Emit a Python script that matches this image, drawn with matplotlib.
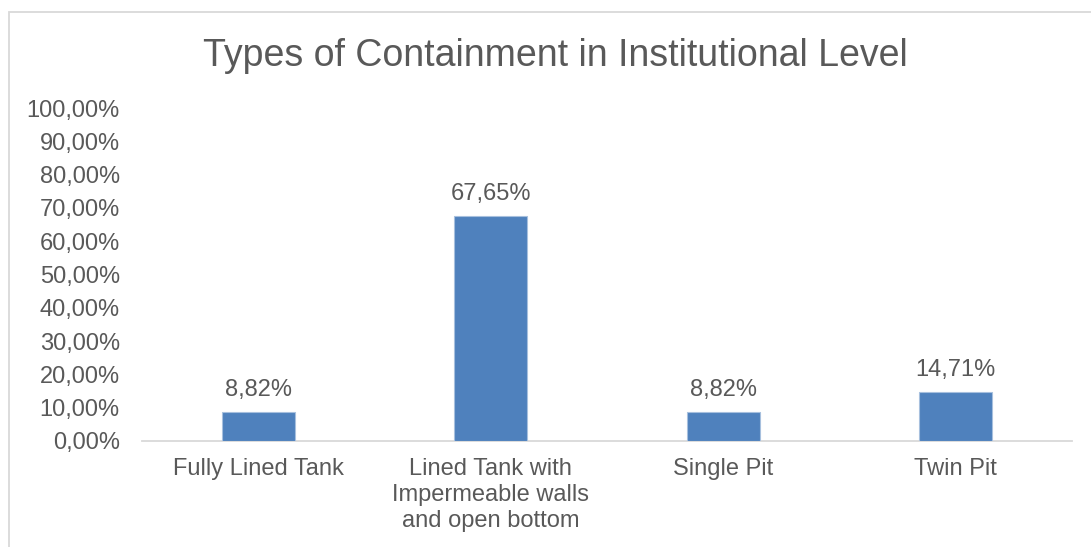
import matplotlib

matplotlib.use("Agg")
import matplotlib.pyplot as plt
from matplotlib.patches import Rectangle
from matplotlib.ticker import FuncFormatter

categories = [
    "Fully Lined Tank",
    "Lined Tank with\nImpermeable walls\nand open bottom",
    "Single Pit",
    "Twin Pit",
]
shares = [0.0882, 0.6765, 0.0882, 0.1471]
y_ticks = [i / 10 for i in range(11)]

TEXT = "#595959"
LINE = "#D9D9D9"
BAR = "#4F81BD"

plt.rcParams["font.family"] = ["Liberation Sans", "DejaVu Sans"]


def pct(v, _pos=None):
    return f"{v * 100:.2f}%".replace(".", ",")


fig = plt.figure(figsize=(10.91, 5.47), dpi=100)
fig.patches.append(
    Rectangle((9 / 1091, -0.1), 1.2, 1.1 - 12 / 547, transform=fig.transFigure,
              fill=False, edgecolor=LINE, lw=1.3)
)

ax = fig.add_axes([142 / 1091, 1 - 441 / 547, 930 / 1091, 333 / 547])
x = list(range(len(categories)))
bars = ax.bar(x, shares, width=0.315, color=BAR, edgecolor="#A7C0DE", lw=0.8, zorder=3)
for b, v in zip(bars, shares):
    ax.annotate(pct(v), (b.get_x() + b.get_width() / 2, v), xytext=(0, 8),
                textcoords="offset points", ha="center", va="bottom",
                fontsize=17, color=TEXT)

ax.set_xlim(-0.5, len(categories) - 0.5)
ax.set_ylim(0, 1.0)
ax.set_yticks(y_ticks)
ax.yaxis.set_major_formatter(FuncFormatter(pct))
ax.set_xticks(x)
ax.set_xticklabels(categories, linespacing=1.25)
ax.tick_params(axis="both", length=0, labelsize=17, labelcolor=TEXT)
ax.tick_params(axis="y", pad=16)
ax.tick_params(axis="x", pad=12)
for side in ("top", "right", "left"):
    ax.spines[side].set_visible(False)
ax.spines["bottom"].set_color(LINE)
ax.spines["bottom"].set_linewidth(1.3)

fig.text(555 / 1091, 1 - 56 / 547, "Types of Containment in Institutional Level",
         ha="center", va="center", fontsize=27, color=TEXT)

fig.savefig("out.png", dpi=100)
